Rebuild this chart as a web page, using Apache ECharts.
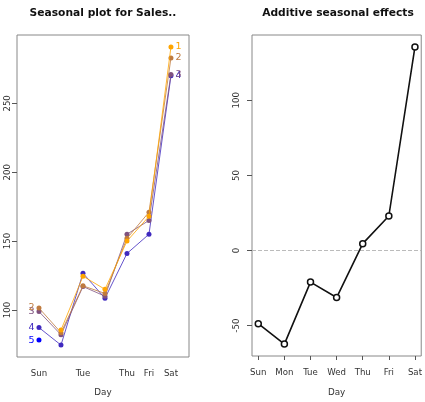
<!DOCTYPE html>
<html>
<head>
<meta charset="utf-8">
<script src="https://cdn.jsdelivr.net/npm/echarts@6/dist/echarts.min.js"></script>
<style>
  html, body { margin: 0; padding: 0; background: #fff; }
  #chart { width: 425px; height: 402px; }
</style>
</head>
<body>
<div id="chart"></div>
<script>
// Day-of-week categories
const days = ['Sun', 'Mon', 'Tue', 'Wed', 'Thu', 'Fri', 'Sat'];

// Sales per day, one array per week (null = no observation)
const week1 = [null, 85.4, 124.5, 115, 150, 168, 291];
const week2 = [101.4, 83.5, 117.5, 112, 152, 171, 283];
const week3 = [98.8, 82, 117, 110, 155, 165, 271];
const week4 = [87.2, 74.5, 126.7, 108.5, 141, 155, 270];
const week5 = [78.1, null, null, null, null, null, null];
const weeks = [week1, week2, week3, week4, week5];
const weekColors = ['#FFA500', '#BF7B3F', '#7F527F', '#3F29BF', '#0000FF'];

// Additive seasonal effect for each day
const effects = [-48.7, -62.3, -21, -31.3, 4.6, 23, 135.6];

// Tick values
const salesTicks = [100, 150, 200, 250];
const effectTicks = [-50, 0, 50, 100];
const seasonDayTicks = [1, 3, 5, 6, 7];
const dayTicks = [1, 2, 3, 4, 5, 6, 7];

function paddedRange(vals) {
  const v = vals.filter(x => x !== null);
  const lo = Math.min(...v), hi = Math.max(...v);
  const pad = (hi - lo) * 0.04;
  return [lo - pad, hi + pad];
}
const salesRange = paddedRange([].concat(...weeks));
const effectRange = paddedRange(effects);

const FONT = 'DejaVu Sans';
const TXT = '#333';

function weekSeries(vals, i) {
  const first = vals.findIndex(v => v !== null);
  let last = -1;
  vals.forEach((v, k) => { if (v !== null) last = k; });
  const data = [];
  vals.forEach((v, k) => {
    if (v === null) return;
    const item = { value: [k + 1, v] };
    if (k === 0 && first === 0) {
      item.label = { show: true, position: 'left', distance: 2, formatter: String(i + 1) };
    } else if (k === 6 && last === 6) {
      item.label = { show: true, position: 'right', distance: 2, formatter: String(i + 1) };
    }
    data.push(item);
  });
  return {
    type: 'line',
    xAxisIndex: 0, yAxisIndex: 0,
    data: data,
    symbol: 'circle',
    symbolSize: 5,
    z: 10 - i,
    color: weekColors[i],
    lineStyle: { width: 1, color: weekColors[i], opacity: 0.8 },
    itemStyle: { color: weekColors[i] },
    label: { color: weekColors[i], fontFamily: FONT, fontSize: 9.5 },
    emphasis: { disabled: true },
    animation: false
  };
}

const chart = echarts.init(document.getElementById('chart'), null, { renderer: 'canvas' });

const option = {
  animation: false,
  backgroundColor: '#fff',
  title: [
    { text: 'Seasonal plot for Sales..', left: 103, top: 8, textAlign: 'center', padding: 0,
      textStyle: { fontFamily: FONT, fontSize: 10.7, fontWeight: 'bold', color: '#111' } },
    { text: 'Additive seasonal effects', left: 338, top: 8, textAlign: 'center', padding: 0,
      textStyle: { fontFamily: FONT, fontSize: 10.7, fontWeight: 'bold', color: '#111' } }
  ],
  grid: [
    { left: 17, right: 236, top: 35, bottom: 41, show: true, borderColor: '#888', borderWidth: 1, backgroundColor: 'transparent' },
    { left: 252, right: 1, top: 35, bottom: 42, show: true, borderColor: '#888', borderWidth: 1, backgroundColor: 'transparent' }
  ],
  xAxis: [
    {
      type: 'value', gridIndex: 0, min: 0, max: 7.82,
      name: 'Day', nameLocation: 'middle', nameGap: 31,
      nameTextStyle: { fontFamily: FONT, fontSize: 8.8, color: TXT },
      axisLine: { show: false, onZero: false },
      axisTick: { show: false },
      splitLine: { show: false },
      axisLabel: {
        customValues: seasonDayTicks, margin: 12,
        fontFamily: FONT, fontSize: 8.6, color: TXT,
        formatter: v => days[Math.round(v) - 1] || ''
      }
    },
    {
      type: 'value', gridIndex: 1, min: 0.76, max: 7.24,
      name: 'Day', nameLocation: 'middle', nameGap: 32,
      nameTextStyle: { fontFamily: FONT, fontSize: 8.8, color: TXT },
      axisLine: { show: false, onZero: false },
      axisTick: { show: true, customValues: dayTicks, length: 4, lineStyle: { color: '#555' } },
      splitLine: { show: false },
      axisLabel: {
        customValues: dayTicks, margin: 12,
        fontFamily: FONT, fontSize: 8.6, color: TXT,
        formatter: v => days[Math.round(v) - 1] || ''
      }
    }
  ],
  yAxis: [
    {
      type: 'value', gridIndex: 0, min: salesRange[0], max: salesRange[1],
      axisLine: { show: false, onZero: false },
      axisTick: { show: true, customValues: salesTicks, length: 5, lineStyle: { color: '#555' } },
      splitLine: { show: false },
      axisLabel: {
        customValues: salesTicks, rotate: 90, margin: 5,
        align: 'center', verticalAlign: 'bottom',
        fontFamily: FONT, fontSize: 8.6, color: TXT
      }
    },
    {
      type: 'value', gridIndex: 1, min: effectRange[0], max: effectRange[1],
      axisLine: { show: false, onZero: false },
      axisTick: { show: true, customValues: effectTicks, length: 5, lineStyle: { color: '#555' } },
      splitLine: { show: false },
      axisLabel: {
        customValues: effectTicks, rotate: 90, margin: 11,
        align: 'center', verticalAlign: 'bottom',
        fontFamily: FONT, fontSize: 8.6, color: TXT
      }
    }
  ],
  series: weeks.map(weekSeries).concat([
    {
      type: 'line',
      xAxisIndex: 1, yAxisIndex: 1,
      data: effects.map((v, k) => [k + 1, v]),
      symbol: 'circle',
      symbolSize: 6,
      lineStyle: { width: 1.6, color: '#111' },
      itemStyle: { color: '#fff', borderColor: '#111', borderWidth: 1.5 },
      emphasis: { disabled: true },
      markLine: {
        silent: true, symbol: 'none', label: { show: false },
        lineStyle: { type: 'dashed', color: '#bbb', width: 1 },
        data: [{ yAxis: 0 }]
      },
      z: 5
    }
  ])
};

chart.setOption(option);
</script>
</body>
</html>
